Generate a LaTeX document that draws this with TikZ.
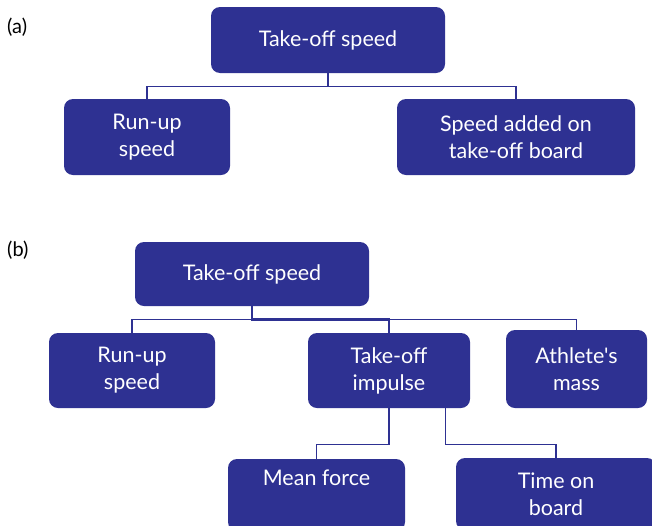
\documentclass[tikz,border=0pt]{standalone}
\usepackage{fontspec}
\setmainfont{Lato}[Ligatures=TeXOff]
\usepackage{tikz}
\usetikzlibrary{positioning}
\definecolor{boxblue}{RGB}{46,49,146}

\begin{document}
\begin{tikzpicture}[x=1pt,y=-1pt,
  box/.style={fill=boxblue,rounded corners=9pt,text=white,align=center,inner sep=0pt,font=\fontsize{21.5}{27}\selectfont},
  link/.style={boxblue,line width=1.4pt},
  tag/.style={anchor=west,inner sep=0pt,font=\fontsize{20}{23}\selectfont}]
\useasboundingbox (0,0) rectangle (652,525);
\clip (0,0) rectangle (652,525);
% (a)
\node[tag] (la) at (7,27) {(a)};
\node[box,minimum width=234pt,minimum height=66pt] (atop) at (328,40) {Take-off speed};
\node[box,minimum width=166pt,minimum height=76pt] (arun) at (147,137) {Run-up\\speed};
\node[box,minimum width=238pt,minimum height=76pt] (aadd) at (516,137) {Speed added on\\take-off board};
\draw[link](atop.south)--++(0,13)-|(arun.north);
\draw[link](atop.south)--++(0,13)-|(aadd.north);
% (b)
\node[tag] (lb) at (7,250) {(b)};
\node[box,minimum width=234pt,minimum height=64pt] (btop) at (252,274) {Take-off speed};
\node[box,minimum width=166pt,minimum height=75pt] (brun) at (132,370.5) {Run-up\\speed};
\node[box,minimum width=162pt,minimum height=75pt] (bimp) at (389,370.5) {Take-off\\impulse};
\node[box,minimum width=141pt,minimum height=78pt] (bmass) at (576.5,369) {Athlete's\\mass};
\node[box,minimum width=177pt,minimum height=72pt] (bforce) at (316.5,495) {Mean force\\\strut};
\node[box,minimum width=200pt,minimum height=72pt] (btime) at (556,494) {Time on\\board};
\draw[link](btop.south)--++(0,13)-|(brun.north);
\draw[link](btop.south)--++(0,13)-|(bimp.north);
\draw[link](btop.south)--++(0,13)-|(bmass.north);
\draw[link,line width=2.6pt](btop.south)--++(0,13)--++(138,0);
\coordinate (bimpr) at ([xshift=-25pt]bimp.south east);
\draw[link](bimp.south)--++(0,36)-|(bforce.north);
\draw[link](bimpr)--++(0,36)-|(btime.north);
\end{tikzpicture}
\end{document}
